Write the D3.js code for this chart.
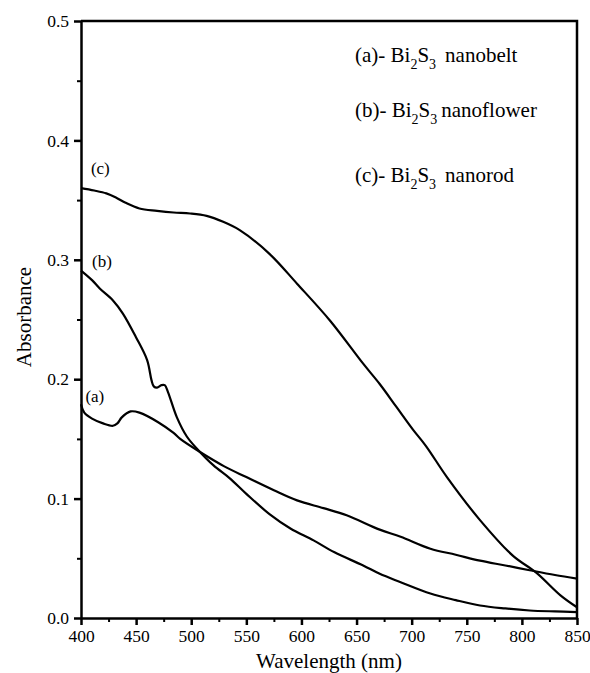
<!DOCTYPE html>
<html>
<head>
<meta charset="utf-8">
<script src="https://cdn.jsdelivr.net/npm/d3@7"></script>
</head>
<body style="margin:0;background:#fff">
<svg width="590" height="673" font-family="Liberation Serif"></svg>
<script>
// wavelength (nm) / absorbance
var beltWl  = [400, 403, 410, 420, 429, 433, 437, 445, 453, 470, 484, 490, 508, 530, 550, 575, 596, 620, 641, 671, 690, 717, 740, 762, 785, 807, 830, 850];
var beltAbs = [0.179, 0.172, 0.167, 0.163, 0.161, 0.163, 0.168, 0.173, 0.172, 0.164, 0.155, 0.150, 0.139, 0.127, 0.118, 0.107, 0.0985, 0.092, 0.086, 0.074, 0.068, 0.058, 0.053, 0.048, 0.044, 0.040, 0.036, 0.033];

var flowerWl  = [400, 410, 417, 429, 438, 450, 460, 464, 466, 469, 473, 476, 479, 487, 496, 505, 520, 535, 550, 571, 590, 611, 630, 656, 671, 690, 717, 740, 762, 785, 807, 830, 850];
var flowerAbs = [0.291, 0.283, 0.276, 0.266, 0.255, 0.235, 0.216, 0.199, 0.194, 0.193, 0.195, 0.195, 0.189, 0.168, 0.152, 0.142, 0.128, 0.117, 0.104, 0.087, 0.075, 0.065, 0.055, 0.044, 0.037, 0.030, 0.0205, 0.015, 0.0105, 0.008, 0.0063, 0.0055, 0.005];

var rodWl  = [400, 412, 423, 432, 440, 453, 469, 484, 499, 514, 529, 544, 571, 596, 626, 656, 671, 686, 701, 713, 732, 762, 792, 813, 835, 850];
var rodAbs = [0.360, 0.358, 0.3556, 0.352, 0.348, 0.343, 0.341, 0.3396, 0.3388, 0.3368, 0.3318, 0.3248, 0.305, 0.280, 0.249, 0.213, 0.196, 0.177, 0.158, 0.144, 0.118, 0.082, 0.052, 0.038, 0.019, 0.009];

var xTicks = [400, 450, 500, 550, 600, 650, 700, 750, 800, 850];
var yTicks = [0.0, 0.1, 0.2, 0.3, 0.4, 0.5];

// curve tags: [text, wavelength, absorbance]
var curveTags = [["(a)", 404, 0.181], ["(b)", 410, 0.294], ["(c)", 409, 0.372]];
var legendNames = [["(a)", "nanobelt"], ["(b)", "nanoflower"], ["(c)", "nanorod"]];

var svg = d3.select("svg"),
    width = +svg.attr("width"),
    height = +svg.attr("height");

var serif = "Liberation Serif";
var margin = {top: 21, right: 13, bottom: 55, left: 81};

var x = d3.scaleLinear().domain([400, 850]).range([margin.left, width - margin.right]);
var y = d3.scaleLinear().domain([0, 0.5]).range([height - margin.bottom, margin.top]);

// minor ticks
var xMinor = d3.range(425, 850, 50);
var yMinor = d3.range(0.05, 0.5, 0.1);

svg.append("g")
    .attr("transform", "translate(0," + y(0) + ")")
    .call(d3.axisBottom(x).tickValues(xMinor).tickSize(4).tickFormat(""))
    .call(g => g.select(".domain").remove())
    .selectAll("line").attr("stroke-width", 2);

svg.append("g")
    .attr("transform", "translate(" + x(400) + ",0)")
    .call(d3.axisLeft(y).tickValues(yMinor).tickSize(4).tickFormat(""))
    .call(g => g.select(".domain").remove())
    .selectAll("line").attr("stroke-width", 2);

// major axes
var xAxis = svg.append("g")
    .attr("transform", "translate(0," + y(0) + ")")
    .call(d3.axisBottom(x).tickValues(xTicks).tickSize(7).tickSizeOuter(0).tickPadding(5).tickFormat(d3.format("d")));
xAxis.attr("font-family", serif).attr("font-size", 17.5);
xAxis.selectAll("line").attr("stroke-width", 2.5);

var yAxis = svg.append("g")
    .attr("transform", "translate(" + x(400) + ",0)")
    .call(d3.axisLeft(y).tickValues(yTicks).tickSize(7).tickSizeOuter(0).tickPadding(5).tickFormat(d3.format(".1f")));
yAxis.attr("font-family", serif).attr("font-size", 17.5);
yAxis.selectAll("line").attr("stroke-width", 2.5);

svg.selectAll(".domain").attr("stroke-width", 2.5);

// frame (top and right)
svg.append("path")
    .attr("d", "M" + x(400) + "," + y(0.5) + "H" + x(850) + "V" + y(0))
    .attr("fill", "none")
    .attr("stroke", "#000")
    .attr("stroke-width", 2.5);

// curves
var line = d3.line()
    .x(d => x(d[0]))
    .y(d => y(d[1]))
    .curve(d3.curveCatmullRom.alpha(0.5));

var series = [
  d3.zip(beltWl, beltAbs),
  d3.zip(flowerWl, flowerAbs),
  d3.zip(rodWl, rodAbs)
];

svg.append("g")
    .selectAll("path")
    .data(series)
    .join("path")
    .attr("d", line)
    .attr("fill", "none")
    .attr("stroke", "#000")
    .attr("stroke-width", 2.2)
    .attr("stroke-linejoin", "round");

// curve tags
svg.append("g")
    .selectAll("text")
    .data(curveTags)
    .join("text")
    .attr("x", d => x(d[1]))
    .attr("y", d => y(d[2]))
    .attr("font-family", serif)
    .attr("font-size", 17)
    .text(d => d[0]);

// legend text
var legend = svg.append("g")
    .selectAll("text")
    .data(legendNames)
    .join("text")
    .attr("x", 355)
    .attr("y", (d, i) => [62, 117, 182][i])
    .attr("font-family", serif)
    .attr("font-size", 21);

legend.each(function(d) {
  var t = d3.select(this);
  t.append("tspan").text(d[0] + "- Bi");
  t.append("tspan").attr("font-size", 14).attr("dy", 7).text("2");
  t.append("tspan").attr("dy", -7).text("S");
  t.append("tspan").attr("font-size", 14).attr("dy", 7).text("3");
  t.append("tspan").attr("dy", -7).attr("dx", d[1] == "nanoflower" ? 4 : 9).text(d[1]);
});

// axis titles
svg.append("text")
    .attr("x", x(625))
    .attr("y", 668)
    .attr("text-anchor", "middle")
    .attr("font-family", serif)
    .attr("font-size", 21)
    .text("Wavelength (nm)");

svg.append("text")
    .attr("transform", "translate(31,317) rotate(-90)")
    .attr("text-anchor", "middle")
    .attr("font-family", serif)
    .attr("font-size", 21)
    .text("Absorbance");
</script>
</body>
</html>
